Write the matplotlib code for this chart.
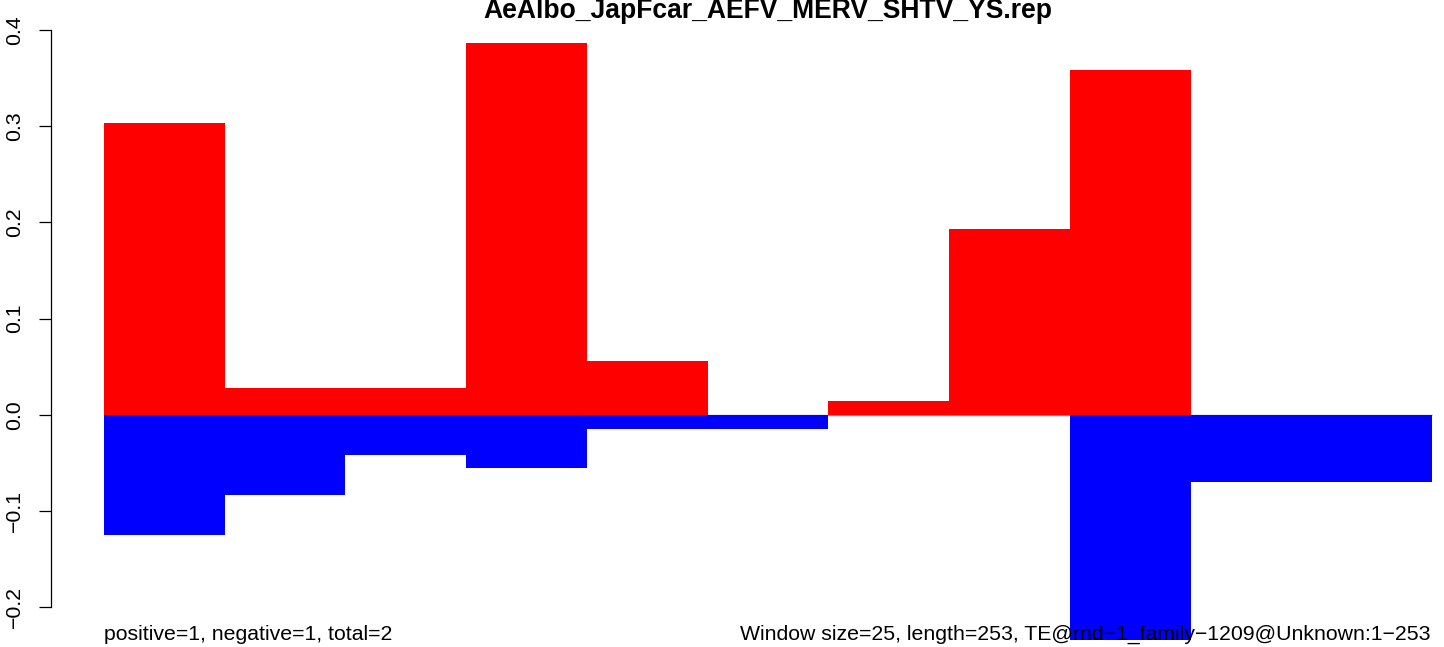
import matplotlib
matplotlib.use("Agg")
import matplotlib.pyplot as plt
import numpy as np

plt.rcParams['font.family'] = ['Liberation Sans', 'DejaVu Sans']

title = "AeAlbo_JapFcar_AEFV_MERV_SHTV_YS.rep"
left_note = "positive=1, negative=1, total=2"
right_note = "Window size=25, length=253, TE@rnd\u22121_family\u22121209@Unknown:1\u2212253"

positive = [0.3033, 0.0278, 0.0278, 0.3865, 0.0558, 0.0, 0.0142, 0.1931, 0.3584, 0.0, 0.0]
negative = [-0.1251, -0.0835, -0.0419, -0.0554, -0.0149, -0.0149, 0.0, 0.0, -0.2347, -0.0697, -0.0697]
yticks = [-0.2, -0.1, 0.0, 0.1, 0.2, 0.3, 0.4]
ytick_labels = ["\u22120.2", "\u22120.1", "0.0", "0.1", "0.2", "0.3", "0.4"]

W, H = 1444, 647
fig = plt.figure(figsize=(W / 100, H / 100), dpi=100)

ax_left_px = 50.7
ax = fig.add_axes([ax_left_px / W, 0, 1 - ax_left_px / W, 1])
unit = 120.73
ax.set_xlim((ax_left_px - 104) / unit, (W - 104) / unit)
zero_px = 414.7
per = 961.7
ax.set_ylim((zero_px - H) / per, zero_px / per)

x = np.arange(len(positive))
ax.hlines(0, 0, len(positive), color='#8c8c8c', lw=1.0, zorder=1)
ax.bar(x, positive, width=1.0, align='edge', color='#ff0000', edgecolor='none', zorder=2)
ax.bar(x, negative, width=1.0, align='edge', color='#0000ff', edgecolor='none', zorder=3)

for s in ['top', 'right', 'bottom']:
    ax.spines[s].set_visible(False)
ax.spines['left'].set_bounds(-0.2, 0.4)
ax.spines['left'].set_linewidth(0.9)
ax.set_xticks([])
ax.set_yticks(yticks)
ax.set_yticklabels(ytick_labels, rotation=90, va='center', fontsize=15.3)
ax.tick_params(axis='y', length=9, width=0.9, pad=10)
ax.patch.set_alpha(0)

fig.text(768 / W, 1 - 18 / H, title, ha='center', va='baseline', fontsize=19.1, fontweight='bold')
fig.text(104 / W, 1 - 640 / H, left_note, ha='left', va='baseline', fontsize=15.3)
fig.text(1431 / W, 1 - 640 / H, right_note, ha='right', va='baseline', fontsize=15.3)

fig.savefig("out.png", dpi=100)
